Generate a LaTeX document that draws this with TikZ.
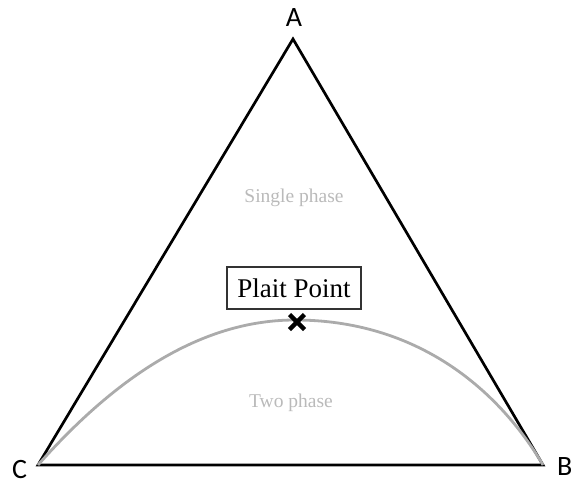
\documentclass[tikz,border=0pt]{standalone}
\usepackage{fontspec}
\setmainfont{Liberation Serif}
\newfontfamily\calib{Carlito}
\begin{document}
\begin{tikzpicture}[x=1pt,y=-1pt,
  vlabel/.style={font=\calib\fontsize{28}{30}\selectfont, inner sep=0pt},
  phasetxt/.style={font=\fontsize{19.5}{22}\selectfont, text=black!27, inner sep=0pt},
  ppbox/.style={draw=black!80, line width=1.1pt, font=\fontsize{27}{29}\selectfont, minimum width=134pt, minimum height=42pt, inner sep=0pt},
  side/.style={line width=2.7pt, line join=miter},
  binodal/.style={line width=2.8pt, draw=black!33}]
\useasboundingbox (0,0) rectangle (574,485);
\coordinate (A) at (293,39);
\coordinate (C) at (38,465);
\coordinate (B) at (543,465);
\coordinate (P) at (295,320);
\draw[side] (A) -- (B) -- (C) -- cycle;
\draw[binodal] (C) .. controls (124,368) and (209,320) .. (P)
  .. controls (415,320) and (497,387) .. (B);
\node[vlabel, anchor=base] (lA) at (294,26) {A};
\node[vlabel, anchor=base west] (lC) at (12,478) {C};
\node[vlabel, anchor=base west] (lB) at (557,475) {B};
\node[phasetxt] (single) at (294,198) {Single phase};
\node[phasetxt] (two) at (291,403) {Two phase};
\node[ppbox] (plait) at (294,288) {Plait Point};
\coordinate (X) at (297,322);
\draw[line width=4.4pt] ([shift={(-7.5,-7.5)}]X) -- ([shift={(7.5,7.5)}]X);
\draw[line width=4.4pt] ([shift={(-7.5,7.5)}]X) -- ([shift={(7.5,-7.5)}]X);
\end{tikzpicture}
\end{document}
